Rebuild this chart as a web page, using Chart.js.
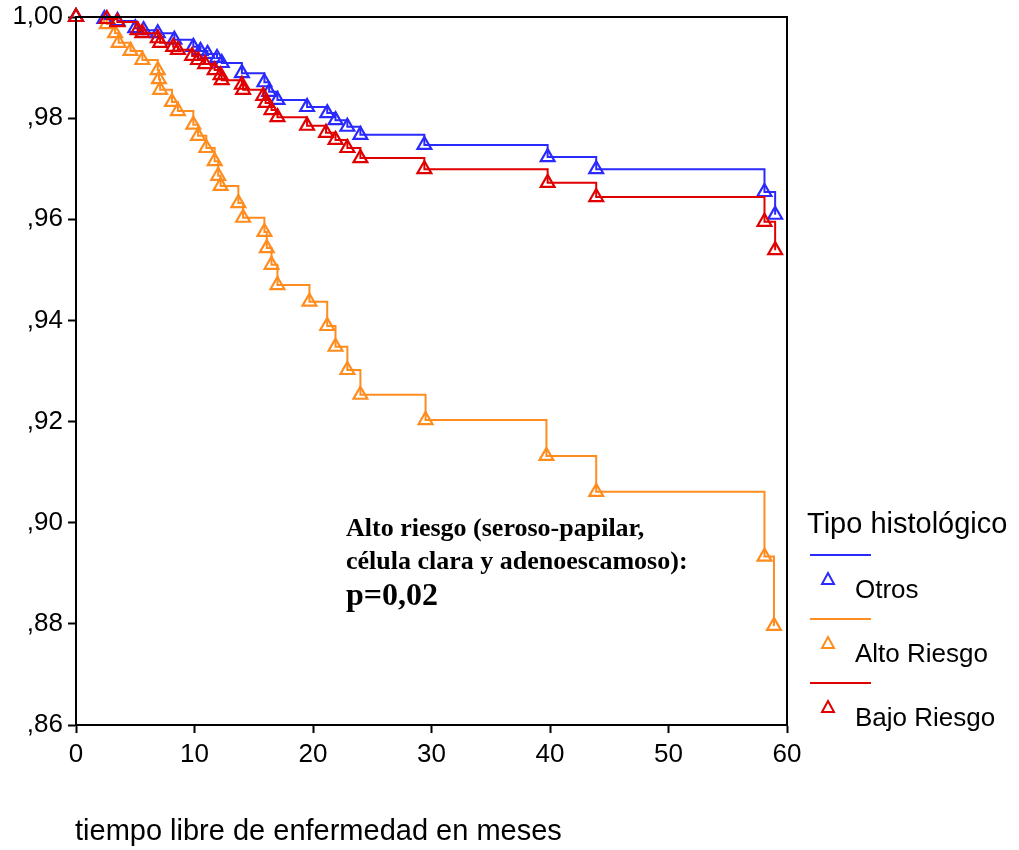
<!DOCTYPE html>
<html lang="es">
<head>
<meta charset="UTF-8"/>
<title>Tiempo libre de enfermedad</title>
<script src="https://cdn.jsdelivr.net/npm/chart.js"></script>
<style>
  body { margin: 0; background: #fff; }
  #wrap { width: 1019px; height: 850px; position: relative; }
</style>
</head>
<body>
<div id="wrap"><canvas id="km"></canvas></div>
<script>
// Kaplan-Meier steps (months, survival)
const otrosT = [0, 2.4, 3.5, 5.0, 5.7, 6.9, 8.3, 9.9, 10.5, 11.1, 11.9, 12.3, 14.0, 15.9, 16.3, 17.0, 19.5, 21.2, 21.9, 22.9, 24.0, 29.4, 39.8, 43.9, 58.1, 59.0];
const otrosS = [1.0, 0.9996, 0.9992, 0.9978, 0.9974, 0.9968, 0.9955, 0.9941, 0.9933, 0.9927, 0.9919, 0.9909, 0.9889, 0.9871, 0.9852, 0.9836, 0.9822, 0.9810, 0.9796, 0.9783, 0.9767, 0.9747, 0.9723, 0.9699, 0.9654, 0.9609];

const altoT = [0, 2.6, 3.3, 3.6, 4.6, 5.6, 6.9, 7.0, 7.1, 8.1, 8.6, 9.9, 10.3, 11.0, 11.7, 12.0, 12.2, 13.7, 14.1, 15.9, 16.1, 16.5, 17.0, 19.7, 21.2, 21.9, 22.9, 24.0, 29.5, 39.7, 43.9, 58.1, 58.9];
const altoS = [1.0, 0.9986, 0.9968, 0.9949, 0.9933, 0.9915, 0.9895, 0.9877, 0.9856, 0.9832, 0.9814, 0.9787, 0.9765, 0.9741, 0.9715, 0.9686, 0.9666, 0.9632, 0.9603, 0.9575, 0.9543, 0.9510, 0.9470, 0.9437, 0.9389, 0.9348, 0.9302, 0.9253, 0.9203, 0.9132, 0.9061, 0.8933, 0.8796];

const bajoT = [0, 2.6, 3.5, 5.2, 5.6, 6.9, 7.1, 8.2, 8.6, 9.8, 10.3, 10.9, 11.7, 12.2, 12.3, 14.0, 14.1, 15.8, 16.0, 16.5, 17.0, 19.5, 21.1, 21.9, 22.9, 24.0, 29.4, 39.8, 43.9, 58.1, 59.0];
const bajoS = [1.0, 0.9996, 0.9990, 0.9974, 0.9968, 0.9958, 0.9949, 0.9941, 0.9935, 0.9923, 0.9915, 0.9907, 0.9895, 0.9885, 0.9875, 0.9866, 0.9856, 0.9844, 0.9830, 0.9816, 0.9802, 0.9785, 0.9771, 0.9757, 0.9741, 0.9721, 0.9699, 0.9672, 0.9644, 0.9595, 0.9539];

const xTicks = [0, 10, 20, 30, 40, 50, 60];
const yTicks = [0.86, 0.88, 0.90, 0.92, 0.94, 0.96, 0.98, 1.00];

const seriesNames = ['Otros', 'Alto Riesgo', 'Bajo Riesgo'];
const BLUE = '#2a2aff', ORANGE = '#ff8c1f', RED = '#e00000';
const SANS = '"Liberation Sans", Arial, sans-serif';
const SERIF = '"Liberation Serif", "Times New Roman", serif';

function pts(t, s) { return t.map((v, i) => ({ x: v, y: s[i] })); }

function kmSet(label, t, s, color) {
  return {
    label: label,
    data: pts(t, s),
    stepped: 'before',
    borderColor: color,
    borderWidth: 2,
    pointStyle: 'triangle',
    pointRadius: 8,
    pointBorderWidth: 2.2,
    pointBorderColor: color,
    pointBackgroundColor: 'rgba(255,255,255,0)',
    fill: false,
    clip: false
  };
}

// frame, legend, note and axis title
const extras = {
  id: 'extras',
  afterDraw(chart) {
    const c = chart.ctx, a = chart.chartArea;
    c.save();
    c.strokeStyle = '#000';
    c.lineWidth = 2;
    c.strokeRect(a.left, a.top, a.right - a.left, a.bottom - a.top);

    c.fillStyle = '#000';
    c.textAlign = 'left';
    c.textBaseline = 'alphabetic';
    c.font = '29px ' + SANS;
    c.fillText('tiempo libre de enfermedad en meses', 75, 840);

    // note
    c.font = 'bold 26px ' + SERIF;
    c.fillText('Alto riesgo (seroso-papilar,', 346, 536);
    c.fillText('célula clara y adenoescamoso):', 346, 569);
    c.font = 'bold 32px ' + SERIF;
    c.fillText('p=0,02', 346, 605);

    // legend
    c.font = '29px ' + SANS;
    c.fillText('Tipo histológico', 807, 533);
    const cols = [BLUE, ORANGE, RED];
    c.font = '26px ' + SANS;
    seriesNames.forEach((n, i) => {
      const y0 = 555 + i * 64;
      c.strokeStyle = cols[i];
      c.lineWidth = 2;
      c.beginPath(); c.moveTo(810, y0); c.lineTo(871, y0); c.stroke();
      const tx = 828, ty = y0 + 25;
      c.beginPath();
      c.moveTo(tx, ty - 7); c.lineTo(tx + 6, ty + 4); c.lineTo(tx - 6, ty + 4); c.closePath();
      c.stroke();
      c.fillStyle = '#000';
      c.fillText(n, 855, y0 + 43);
    });
    c.restore();
  }
};

new Chart(document.getElementById('km'), {
  type: 'line',
  data: {
    datasets: [
      kmSet(seriesNames[2], bajoT, bajoS, RED),
      kmSet(seriesNames[0], otrosT, otrosS, BLUE),
      kmSet(seriesNames[1], altoT, altoS, ORANGE)
    ]
  },
  options: {
    responsive: true,
    maintainAspectRatio: false,
    animation: false,
    layout: { padding: { top: 17, right: 232, bottom: 0, left: 0 } },
    plugins: { legend: { display: false }, tooltip: { enabled: false } },
    scales: {
      x: {
        type: 'linear', min: 0, max: 60,
        afterFit: s => { s.height = 125; s.paddingLeft = 0; s.paddingRight = 0; },
        afterBuildTicks: s => { s.ticks = xTicks.map(v => ({ value: v })); },
        grid: { drawOnChartArea: false, drawTicks: true, tickLength: 8, color: '#000', tickWidth: 2 },
        border: { display: true, color: '#000', width: 2 },
        ticks: { color: '#000', padding: 6, maxRotation: 0, font: { size: 26, family: SANS } }
      },
      y: {
        min: 0.86, max: 1.0,
        afterFit: s => { s.width = 76; s.paddingTop = 0; s.paddingBottom = 0; },
        afterBuildTicks: s => { s.ticks = yTicks.map(v => ({ value: v })); },
        grid: { drawOnChartArea: false, drawTicks: true, tickLength: 8, color: '#000', tickWidth: 2 },
        border: { display: true, color: '#000', width: 2 },
        ticks: {
          color: '#000', padding: 5,
          font: { size: 26, family: SANS },
          callback: v => Math.round(v * 100) === 100 ? '1,00' : ',' + Math.round(v * 100)
        }
      }
    }
  },
  plugins: [extras]
});
</script>
</body>
</html>
